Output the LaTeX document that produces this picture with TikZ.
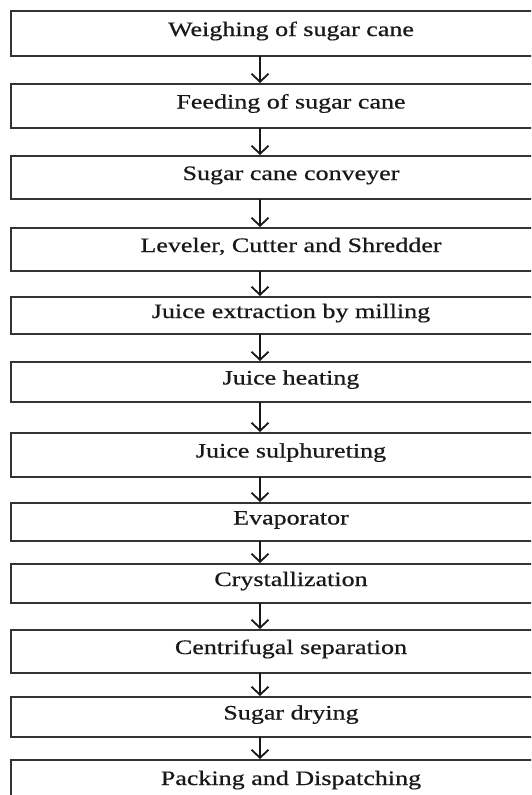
\documentclass[tikz,border=0pt]{standalone}
\usepackage{fontspec}
\usepackage{graphicx}
\setmainfont{Liberation Serif}
\newfontfamily\flowfont[FakeBold=0.5]{Liberation Serif}
\usetikzlibrary{arrows.meta}
\tikzset{
  stepbox/.style={draw=black!80, line width=2pt, minimum width=560pt, inner sep=0pt, outer sep=0pt},
  txt/.style={anchor=base, inner sep=0pt, font=\flowfont\fontsize{20.5}{24}\selectfont, text=black!90},
  flow/.style={line width=1.8pt, black!90, -{Straight Barb[length=8pt,width=17pt,line width=1.8pt]}, shorten >=1pt}
}
\newcommand{\wtxt}[1]{\scalebox{1.27}[1]{#1}}
\begin{document}
\begin{tikzpicture}[x=1pt,y=-1pt]
\useasboundingbox (0,0) rectangle (531,795);
\clip (0,0) rectangle (531,795);
\fill[white] (0,0) rectangle (531,795);
% boxes: centre x = 291, centre y = (top+bottom)/2
\node[stepbox, minimum height=45pt] (b1) at (291,33.5) {};
\node[stepbox, minimum height=44pt] (b2) at (291,106) {};
\node[stepbox, minimum height=43pt] (b3) at (291,177.5) {};
\node[stepbox, minimum height=43pt] (b4) at (291,249.5) {};
\node[stepbox, minimum height=37pt] (b5) at (291,315.5) {};
\node[stepbox, minimum height=40pt] (b6) at (291,382) {};
\node[stepbox, minimum height=44pt] (b7) at (291,455) {};
\node[stepbox, minimum height=38pt] (b8) at (291,522) {};
\node[stepbox, minimum height=39pt] (b9) at (291,583.5) {};
\node[stepbox, minimum height=43pt] (b10) at (291,651.5) {};
\node[stepbox, minimum height=40pt] (b11) at (291,717) {};
\node[stepbox, minimum height=44pt] (b12) at (291,782) {};
% texts
\node[txt] (t1) at ([yshift=-2.5pt]b1.center) {\wtxt{Weighing of sugar cane}};
\node[txt] (t2) at ([yshift=-2.5pt]b2.center) {\wtxt{Feeding of sugar cane}};
\node[txt] (t3) at ([yshift=-2.5pt]b3.center) {\wtxt{Sugar cane conveyer}};
\node[txt] (t4) at ([yshift=-2.5pt]b4.center) {\wtxt{Leveler, Cutter and Shredder}};
\node[txt] (t5) at ([yshift=-2.5pt]b5.center) {\wtxt{Juice extraction by milling}};
\node[txt] (t6) at ([yshift=-2.5pt]b6.center) {\wtxt{Juice heating}};
\node[txt] (t7) at ([yshift=-2.5pt]b7.center) {\wtxt{Juice sulphureting}};
\node[txt] (t8) at ([yshift=-2.5pt]b8.center) {\wtxt{Evaporator}};
\node[txt] (t9) at ([yshift=-2.5pt]b9.center) {\wtxt{Crystallization}};
\node[txt] (t10) at ([yshift=-2.5pt]b10.center) {\wtxt{Centrifugal separation}};
\node[txt] (t11) at ([yshift=-2.5pt]b11.center) {\wtxt{Sugar drying}};
\node[txt] (t12) at (291,785) {\wtxt{Packing and Dispatching}};
% arrows at x = 260
\foreach \a/\b in {b1/b2,b2/b3,b3/b4,b4/b5,b5/b6,b6/b7,b7/b8,b8/b9,b9/b10,b10/b11,b11/b12}{
  \draw[flow] (\a.south -| 260,0) -- (\b.north -| 260,0);
}
\end{tikzpicture}
\end{document}
